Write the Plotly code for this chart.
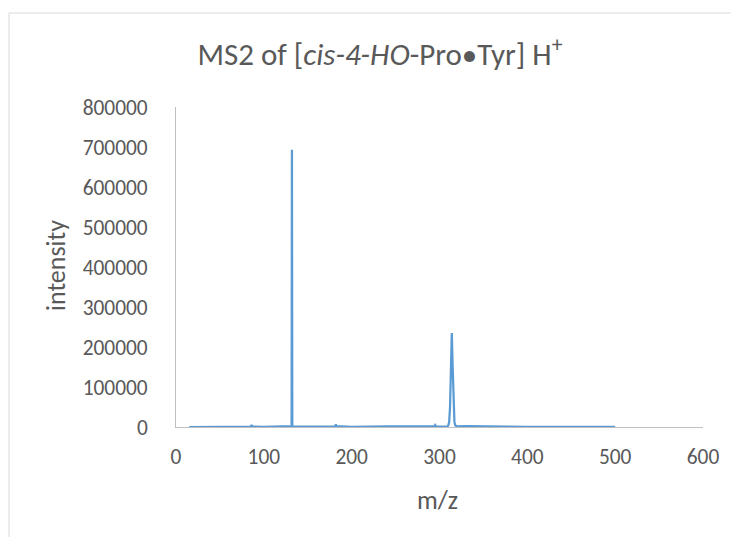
import plotly.graph_objects as go

# m/z values and intensities
mz = [15, 40, 70, 85, 86, 87, 100, 120, 130, 131.6, 132, 132.4, 134, 160, 180, 181.5, 182, 182.5, 200,
      240, 270, 294, 295, 296, 305, 309, 310, 311, 312, 313, 314, 315, 316, 317, 318, 320, 330, 360,
      400, 450, 480, 500]
intensity = [0, 0, 500, 800, 5000, 800, 300, 500, 800, 2000, 693000, 2000, 800, 300, 800, 2000, 7000, 2000, 500,
             1500, 800, 1500, 5000, 1500, 1000, 1500, 4000, 12000, 50000, 150000, 235000, 150000, 50000, 12000, 4000, 1500, 2000, 1000,
             500, 500, 1500, 500]

x_ticks = [0, 100, 200, 300, 400, 500, 600]
y_ticks = [0, 100000, 200000, 300000, 400000, 500000, 600000, 700000, 800000]

FONT = "Calibri, Carlito, Lato, sans-serif"
TXT = "#595959"

fig = go.Figure()
fig.add_trace(go.Scatter(x=mz, y=intensity, mode="lines",
                         line=dict(color="#5b9bd5", width=2.25), showlegend=False))

OFF = 8  # page body margin
W, H = 731, 529
L, T = 176 - OFF, 107 - OFF
pw, ph = 527, 320
R = W - L - pw
B = H - T - ph

def px_x(px):
    return (px - 176) / pw

def px_y(py):
    return (427 - py) / ph

fig.update_layout(
    width=W, height=H,
    margin=dict(l=L, r=R, t=T, b=B),
    paper_bgcolor="white", plot_bgcolor="white",
    font=dict(family=FONT, color=TXT, size=21),
    title=dict(text="MS2 of [<i>cis-4-HO</i>-Pro•Tyr] H<sup>+</sup>",
               x=px_x(380), y=1 - (54 - OFF) / H, xref="paper", yref="container",
               xanchor="center", yanchor="middle",
               font=dict(family=FONT, size=31, color=TXT)),
    xaxis=dict(range=[0, 600], tickvals=x_ticks, ticktext=[str(v) for v in x_ticks],
               showgrid=False, zeroline=False, showline=True, linecolor="#bfbfbf", linewidth=1,
               ticks="", ticklabelstandoff=10, tickfont=dict(size=21.4, color=TXT)),
    yaxis=dict(range=[0, 800000], tickvals=y_ticks, ticktext=[str(v) for v in y_ticks],
               showgrid=False, zeroline=False, showline=True, linecolor="#bfbfbf", linewidth=1,
               ticks="", ticklabelstandoff=23, tickfont=dict(size=21.4, color=TXT)),
    annotations=[
        dict(text="intensity", x=px_x(56), y=px_y(266), xref="paper", yref="paper",
             textangle=-90, showarrow=False, xanchor="center", yanchor="middle",
             font=dict(family=FONT, size=26, color=TXT)),
        dict(text="m/z", x=px_x(437), y=px_y(500), xref="paper", yref="paper",
             showarrow=False, xanchor="center", yanchor="middle",
             font=dict(family=FONT, size=26, color=TXT)),
    ],
    shapes=[dict(type="rect", xref="paper", yref="paper",
                 x0=px_x(OFF + 1), x1=px_x(900), y0=px_y(800), y1=px_y(13),
                 line=dict(color="#d9d9d9", width=1), fillcolor="rgba(0,0,0,0)", layer="below")],
)

fig.write_html("out.html")
